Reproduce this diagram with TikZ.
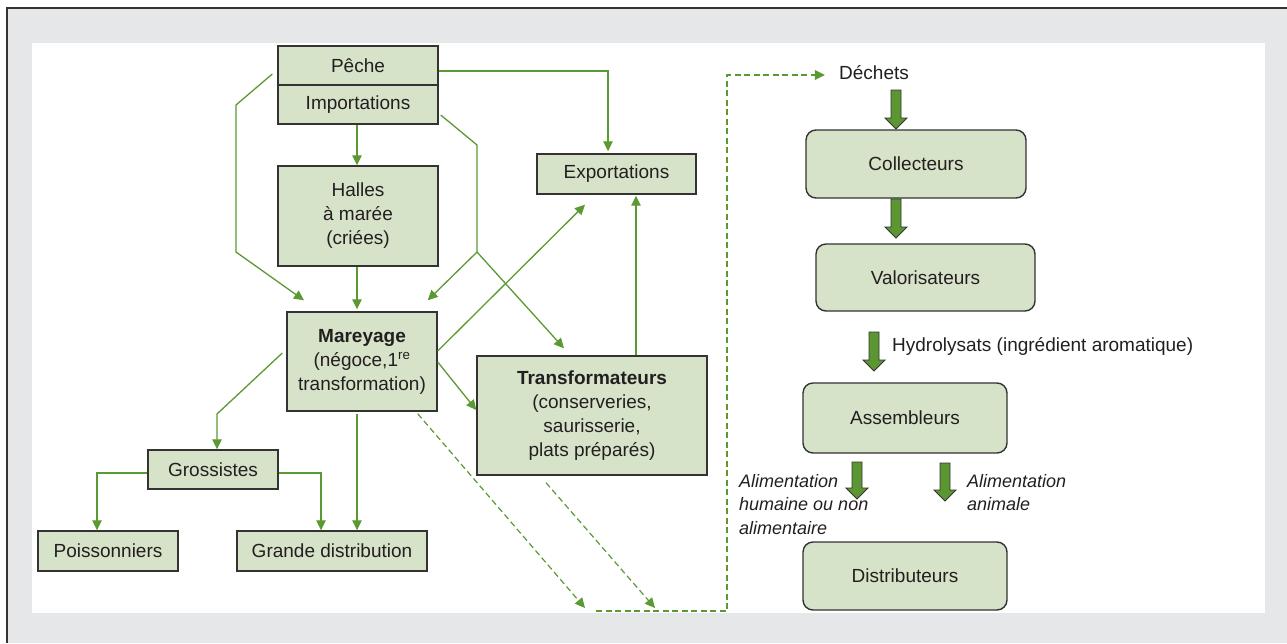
\documentclass[tikz,border=0pt]{standalone}
\usepackage{fontspec}
\setmainfont{Liberation Sans}
\usetikzlibrary{arrows.meta,calc}
\definecolor{boxfill}{HTML}{D6E3C8}
\definecolor{boxline}{HTML}{333333}
\definecolor{lgreen}{HTML}{5B9A32}
\definecolor{afill}{HTML}{5B9632}
\definecolor{txt}{HTML}{231F20}
\definecolor{bggray}{HTML}{E6E7E8}
\newcommand\blockarr[2]{\path[barrow] let \p1=(#1), \p2=(#2) in (\x1-5pt,\y1) -- (\x1+5pt,\y1) -- (\x1+5pt,\y2+11pt) -- (\x1+11pt,\y2+11pt) -- (\x1,\y2) -- (\x1-11pt,\y2+11pt) -- (\x1-5pt,\y2+11pt) -- cycle;}
\begin{document}
\begin{tikzpicture}[x=1pt,y=-1pt,
  box/.style={draw=boxline, line width=1.4pt, fill=boxfill, text=txt, align=center, inner sep=0pt, font=\fontsize{19}{24}\selectfont},
  rbox/.style={box, rounded corners=10pt},
  lbl/.style={text=txt, inner sep=0pt, align=left},
  conn/.style={draw=lgreen, line width=1.3pt, -{Triangle[length=10pt,width=9.5pt]}},
  dconn/.style={conn, dash pattern=on 6pt off 3.5pt, line width=1.2pt},
  barrow/.style={fill=afill, draw=boxline, line width=0.9pt, line join=miter},
]
\useasboundingbox (0,0) rectangle (1287,643);
% frame
\fill[bggray] (7,8) rectangle (1287,643);
\fill[white] (32,43) rectangle (1265,613);
\draw[boxline, line width=1.3pt] (7,643) -- (7,8) -- (1287,8);

% left part nodes
\node[box, minimum width=160pt, minimum height=39pt] (peche) at (358,65.5) {Pêche};
\node[box, minimum width=160pt, minimum height=39pt] (import) at (358,104.5) {Importations};
\node[box, minimum width=160pt, minimum height=100pt] (halles) at (358,216) {Halles\\à marée\\(criées)};
\node[box, minimum width=150pt, minimum height=99pt] (mar) at (362,361.5) {\textbf{Mareyage}\\(négoce,1\textsuperscript{re}\\transformation)};
\node[box, minimum width=159pt, minimum height=40pt] (exp) at (616.5,174) {Exportations};
\node[box, minimum width=230pt, minimum height=119pt] (trans) at (592,415.5) {\textbf{Transformateurs}\\(conserveries,\\saurisserie,\\plats préparés)};
\node[box, minimum width=130pt, minimum height=39pt] (gros) at (213,469.5) {Grossistes};
\node[box, minimum width=140pt, minimum height=40pt] (poiss) at (108,551) {Poissonniers};
\node[box, minimum width=190pt, minimum height=40pt] (grande) at (332,551) {Grande distribution};

% right part nodes
\node[lbl, font=\fontsize{19}{24}\selectfont] (dechets) at (874,73) {Déchets};
\node[rbox, minimum width=220pt, minimum height=68pt] (coll) at (916,164) {Collecteurs};
\node[rbox, minimum width=219pt, minimum height=67pt] (valo) at (925.5,277.5) {Valorisateurs};
\node[rbox, minimum width=204pt, minimum height=70pt] (assem) at (905,418) {Assembleurs};
\node[rbox, minimum width=204pt, minimum height=68pt] (distr) at (905,576) {Distributeurs};

\node[lbl, anchor=west, font=\fontsize{19}{24}\selectfont] (hydro) at (892,346) {Hydrolysats (ingrédient aromatique)};
\node[lbl, anchor=north west, font=\fontsize{18}{23.5}\selectfont\itshape] (alh) at (739,474) {Alimentation\\humaine ou non\\alimentaire};
\node[lbl, anchor=north west, font=\fontsize{18}{23.5}\selectfont\itshape] (ala) at (967,474) {Alimentation\\animale};

% thin connectors
\coordinate (b1) at (236,105);
\coordinate (b2) at (236,252);
\draw[conn] ([shift={(-5,8.5)}]peche.west) -- (b1) -- (b2) -- ([shift={(-58,-11)}]mar.north);
\draw[conn] ([xshift=-1]import.south) -- ([xshift=-1]halles.north);
\draw[conn, shorten >=2pt] ([xshift=-1]halles.south) -- ([xshift=-1]halles.south |- mar.north);
\draw[conn, shorten >=2pt] ([shift={(0,5.5)}]peche.east) -| ([xshift=-8.5]exp.north);
\coordinate (f1) at (477,145);
\coordinate (fork) at (477,252);
\draw[conn] ([shift={(2,10.5)}]import.east) -- (f1) -- (fork) -- ([shift={(-10,-11)}]mar.north east);
\draw[conn] (fork) -- ([shift={(-28,-7)}]trans.north);
\draw[conn] ([shift={(0,-10.5)}]mar.east) -- ([shift={(-31.5,10)}]exp.south);
\draw[conn] ([shift={(0,0.5)}]mar.east) -- ([shift={(0,-5.5)}]trans.west);
\draw[conn, shorten >=1pt] ([xshift=44]trans.north) -- ([xshift=44]trans.north |- exp.south);
\coordinate (g1) at (217,414);
\draw[conn] ([shift={(-4,-8.5)}]mar.west) -- (g1) -- ([xshift=4]gros.north);
\draw[conn] ([shift={(-5,2)}]mar.south) -- ([xshift=25]grande.north);
\draw[conn] ([shift={(0,3.5)}]gros.west) -| ([xshift=-11]poiss.north);
\draw[conn] ([shift={(0,3.5)}]gros.east) -| ([xshift=-11]grande.north);

% dashed connectors
\coordinate (d1) at (585,608);
\coordinate (d2) at (655,608);
\coordinate (dstart) at (596,611);
\coordinate (dc1) at (727,611);
\coordinate (dc2) at (727,75);
\draw[dconn] ([shift={(-20,2)}]mar.south east) -- (d1);
\draw[dconn] ([shift={(-46,7)}]trans.south) -- (d2);
\draw[dconn, shorten >=14pt] (dstart) -- (dc1) -- (dc2) -- (dechets.west |- dc2);

% block arrows
\coordinate (a1t) at (896,90);  \coordinate (a1b) at (896,129);
\coordinate (a2t) at (896,199); \coordinate (a2b) at (896,238);
\coordinate (a3t) at (874,332); \coordinate (a3b) at (874,371);
\coordinate (a4t) at (857,462); \coordinate (a4b) at (857,499);
\coordinate (a5t) at (945,463); \coordinate (a5b) at (945,501);
\blockarr{a1t}{a1b}
\blockarr{a2t}{a2b}
\blockarr{a3t}{a3b}
\blockarr{a4t}{a4b}
\blockarr{a5t}{a5b}
\end{tikzpicture}
\end{document}
